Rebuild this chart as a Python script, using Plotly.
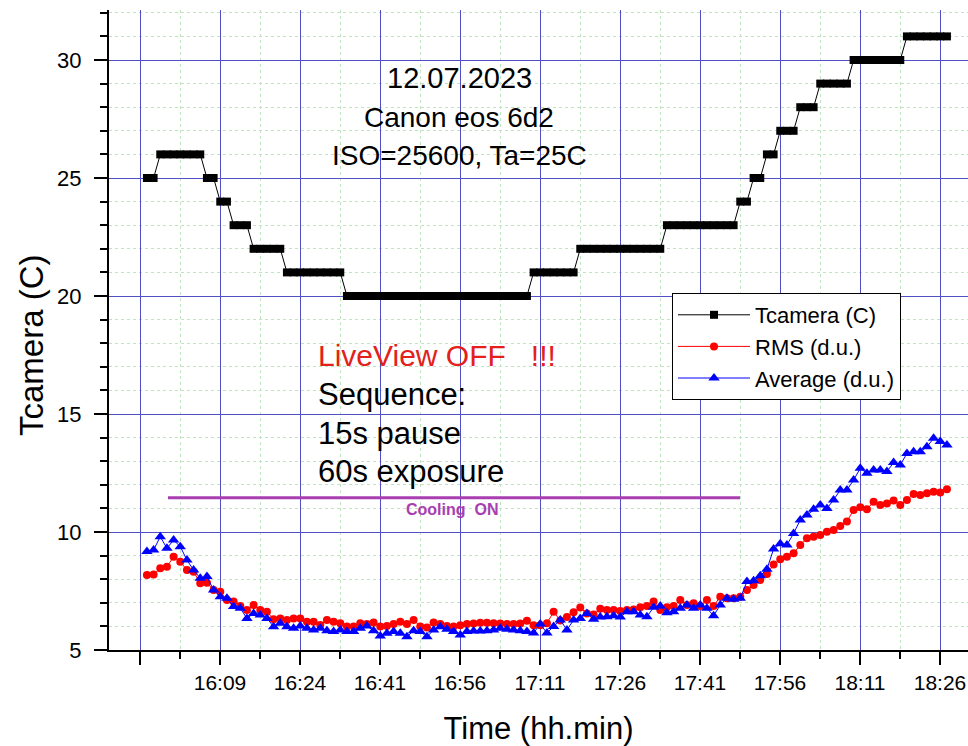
import plotly.graph_objects as go

# ---------------- data ----------------
frame_interval_min = 1.25          # 15 s pause + 60 s exposure
first_frame_min = 1.3
n_frames = 121
frame_min = [first_frame_min + frame_interval_min * i for i in range(n_frames)]

tcamera = ([25] * 2 + [26] * 7 + [25] * 2 + [24] * 2 + [23] * 3 + [22] * 5 + [21] * 9 +
           [20] * 28 + [21] * 7 + [22] * 13 + [23] * 11 + [24] * 2 + [25] * 2 + [26] * 2 +
           [27] * 3 + [28] * 3 + [29] * 5 + [30] * 8 + [31] * 7)

rms = [8.18, 8.20, 8.46, 8.53, 8.95, 8.74, 8.39, 8.32, 7.83, 7.85,
       7.54, 7.47, 7.12, 7.05, 6.86, 6.69, 6.91, 6.69, 6.62, 6.30,
       6.34, 6.27, 6.34, 6.34, 6.20, 6.20, 6.06, 6.27, 6.20, 6.13,
       6.00, 6.00, 6.13, 6.10, 6.16, 6.00, 6.02, 6.10, 6.20, 6.10,
       6.27, 6.00, 5.95, 6.16, 6.10, 6.02, 6.00, 6.05, 6.10, 6.12,
       6.15, 6.15, 6.13, 6.12, 6.10, 6.10, 6.12, 6.24, 6.05, 6.05,
       6.13, 6.62, 6.25, 6.40, 6.60, 6.80, 6.55, 6.50, 6.75, 6.70,
       6.70, 6.65, 6.69, 6.72, 6.81, 6.86, 7.05, 6.69, 6.81, 6.86,
       7.12, 6.91, 6.98, 6.86, 7.12, 6.86, 7.26, 7.19, 7.19, 7.26,
       7.54, 7.75, 7.97, 8.22, 8.62, 8.85, 8.95, 9.10, 9.45, 9.73,
       9.80, 9.87, 10.01, 10.08, 10.25, 10.45, 10.93, 11.05, 10.96, 11.28,
       11.14, 11.21, 11.33, 11.14, 11.36, 11.61, 11.57, 11.64, 11.71, 11.67,
       11.81]

average = [9.17, 9.24, 9.80, 9.31, 9.66, 9.38, 8.81, 8.39, 8.04, 8.11,
           7.54, 7.26, 7.19, 6.84, 6.77, 6.34, 6.55, 6.48, 6.34, 5.99,
           6.13, 5.99, 5.92, 6.02, 5.92, 5.85, 5.92, 5.82, 5.78, 5.85,
           5.78, 5.78, 5.92, 6.02, 5.82, 5.59, 5.71, 5.78, 5.71, 5.56,
           5.82, 5.78, 5.56, 5.85, 5.99, 5.88, 5.78, 5.64, 5.78, 5.80,
           5.80, 5.82, 5.85, 5.92, 5.88, 5.85, 5.82, 5.78, 5.72, 6.10,
           5.72, 6.00, 6.27, 5.85, 6.27, 6.34, 6.55, 6.30, 6.40, 6.41,
           6.45, 6.40, 6.62, 6.62, 6.48, 6.41, 6.81, 6.86, 6.58, 6.62,
           6.77, 6.91, 6.77, 6.91, 6.77, 6.45, 6.91, 7.19, 7.15, 7.19,
           7.90, 7.93, 8.15, 8.42, 9.28, 9.50, 9.45, 9.94, 10.51, 10.72,
           10.96, 11.14, 11.00, 11.36, 11.78, 11.78, 12.20, 12.70, 12.49, 12.63,
           12.63, 12.56, 12.94, 12.84, 13.33, 13.40, 13.40, 13.61, 13.97, 13.83,
           13.69]

tick_min = [0, 15, 30, 45, 60, 75, 90, 105, 120, 135, 150]
tick_labels = ["", "16:09", "16:24", "16:41", "16:56", "17:11", "17:26",
               "17:41", "17:56", "18:11", "18:26"]

cooling_start_min = 5.25
cooling_end_min = 112.5
cooling_level = 11.45

# ---------------- figure ----------------
FONT = "Liberation Sans, Arial, sans-serif"
W, H = 968, 746
L, R, T, B = 109, 0, 10, 96

def px_x(p):
    return (p - L) / (W - L - R)

def px_y(p):
    return (H - B - p) / (H - B - T)

fig = go.Figure()
fig.add_trace(go.Scatter(
    x=frame_min, y=tcamera, mode="lines+markers", name="Tcamera (C)",
    line=dict(color="black", width=1),
    marker=dict(symbol="square", size=8, color="black"),
))
fig.add_trace(go.Scatter(
    x=frame_min, y=rms, mode="lines+markers", name="RMS (d.u.)",
    line=dict(color="#ff0000", width=1),
    marker=dict(symbol="circle", size=8, color="#ff0000"),
))
fig.add_trace(go.Scatter(
    x=frame_min, y=average, mode="lines+markers", name="Average (d.u.)",
    line=dict(color="#0000ff", width=1),
    marker=dict(symbol="triangle-up", size=10, color="#0000ff"),
))

# cooling line
fig.add_shape(type="line", xref="x", yref="y",
              x0=cooling_start_min, x1=cooling_end_min,
              y0=cooling_level, y1=cooling_level,
              line=dict(color="#a83eb0", width=3), layer="above")

annos = [
    dict(text="12.07.2023", x=px_x(459), y=px_y(78), xanchor="center", color="black", size=29),
    dict(text="Canon eos 6d2", x=px_x(459), y=px_y(117), xanchor="center", color="black", size=28),
    dict(text="ISO=25600, Ta=25C", x=px_x(459), y=px_y(155), xanchor="center", color="black", size=28),
    dict(text="LiveView OFF   !!!", x=px_x(316), y=px_y(355), xanchor="left", color="#e3201b", size=30),
    dict(text="Sequence:", x=px_x(316), y=px_y(394), xanchor="left", color="black", size=31),
    dict(text="15s pause", x=px_x(316), y=px_y(433), xanchor="left", color="black", size=31),
    dict(text="60s exposure", x=px_x(316), y=px_y(471), xanchor="left", color="black", size=31),
]
for a in annos:
    fig.add_annotation(text=a["text"], xref="paper", yref="paper", x=a["x"], y=a["y"],
                       xanchor=a["xanchor"], yanchor="middle", showarrow=False,
                       font=dict(family=FONT, size=a["size"], color=a["color"]))
fig.add_annotation(text="<b>Cooling  ON</b>", xref="paper", yref="paper",
                   x=px_x(452), y=px_y(509), xanchor="center", yanchor="middle",
                   showarrow=False, font=dict(family=FONT, size=16, color="#a83eb0"))
# y-axis title
fig.add_annotation(text="Tcamera (C)", xref="paper", yref="paper",
                   x=px_x(31), y=px_y(345), xanchor="center", yanchor="middle",
                   textangle=-90, showarrow=False,
                   font=dict(family=FONT, size=33, color="black"))

grid_major = "#5050c4"
grid_minor = "#c0e4c0"

fig.update_xaxes(
    range=[(L - 140) * 15 / 80, (W - R - 140) * 15 / 80],
    tickmode="array", tickvals=tick_min, ticktext=tick_labels,
    ticks="outside", ticklen=13, tickwidth=2, tickcolor="black",
    showline=True, linecolor="black", linewidth=2,
    showgrid=True, gridcolor=grid_major, gridwidth=1,
    zeroline=False,
    tickfont=dict(family=FONT, size=21, color="black"),
    minor=dict(tickmode="linear", tick0=7.5, dtick=15, ticks="outside", ticklen=7,
               tickwidth=2, tickcolor="black", showgrid=True, gridcolor=grid_minor,
               griddash="dot", gridwidth=1),
    title=dict(text="Time (hh.min)", font=dict(family=FONT, size=31, color="black"),
               standoff=26),
)
fig.update_yaxes(
    range=[5, 5 + (H - B - T) / 23.6],
    tickmode="linear", tick0=5, dtick=5,
    ticks="outside", ticklen=13, tickwidth=2, tickcolor="black",
    showline=True, linecolor="black", linewidth=2,
    showgrid=True, gridcolor=grid_major, gridwidth=1,
    zeroline=False,
    tickfont=dict(family=FONT, size=22, color="black"),
    ticklabelstandoff=8,
    minor=dict(tickmode="linear", tick0=5, dtick=1, ticks="outside", ticklen=7,
               tickwidth=2, tickcolor="black", showgrid=True, gridcolor=grid_minor,
               griddash="dot", gridwidth=1),
)

fig.update_layout(
    width=W, height=H,
    margin=dict(l=L, r=R, t=T, b=B),
    paper_bgcolor="white", plot_bgcolor="white",
    showlegend=True,
    legend=dict(x=px_x(672), y=px_y(293), xanchor="left", yanchor="top",
                bgcolor="white", bordercolor="black", borderwidth=1,
                font=dict(family=FONT, size=22, color="black"),
                tracegroupgap=0, itemwidth=72),
)

fig.write_html("out.html")
